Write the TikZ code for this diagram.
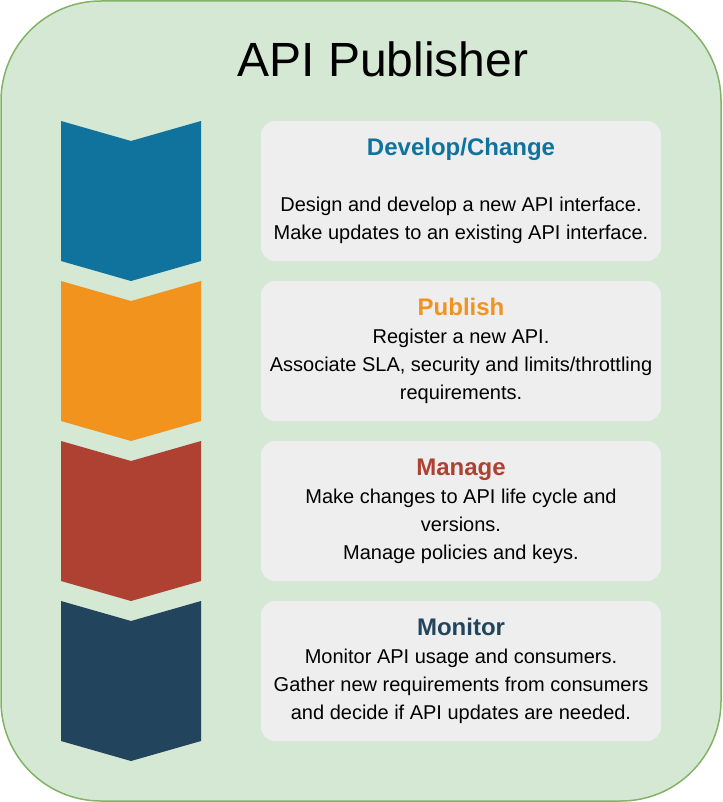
\documentclass[tikz,border=0pt]{standalone}
\usepackage{fontspec}
\setmainfont{Liberation Sans}
\definecolor{devblue}{HTML}{10739E}
\definecolor{puborange}{HTML}{F2931E}
\definecolor{mgmtred}{HTML}{AE4132}
\definecolor{monnavy}{HTML}{23445D}
\definecolor{framefill}{HTML}{D5E8D4}
\definecolor{framedraw}{HTML}{82B366}
\definecolor{cardgrey}{HTML}{EEEEEE}
\newcommand{\cardhead}[2]{{\fontsize{24}{28}\selectfont\bfseries\color{#1}#2}}
\newcommand{\trail}{\hspace*{0.278em}}
\begin{document}
\begin{tikzpicture}[x=1pt,y=-1pt]

    \tikzset{
      card/.style={
        fill=cardgrey,
        rounded corners=14pt,
        minimum width=400pt,
        minimum height=140pt,
        inner sep=0pt,
        align=center,
        font=\fontsize{20}{28}\selectfont,
      },
    }
    \useasboundingbox (0,0) rectangle (722,802);
    \draw[draw=framedraw, fill=framefill, line width=1.5pt, rounded corners=100pt] (1,1) rectangle (721,801);
    \node[anchor=base] (title) at (383,77) {\fontsize{48}{54}\selectfont API Publisher};

    % chevrons
	\fill[devblue] (61,121) -- (131,141) -- (201,121) -- (201,261) -- (131,281) -- (61,261) -- cycle;
	\fill[puborange] (61,281) -- (131,301) -- (201,281) -- (201,421) -- (131,441) -- (61,421) -- cycle;
	\fill[mgmtred] (61,441) -- (131,461) -- (201,441) -- (201,581) -- (131,601) -- (61,581) -- cycle;
	\fill[monnavy] (61,601) -- (131,621) -- (201,601) -- (201,741) -- (131,761) -- (61,741) -- cycle;

    % cards
	\node[card] (develop) at (461,191) {\cardhead{devblue}{Develop/Change}\\[28pt]
	  Design and develop a new API interface.\\
	  Make updates to an existing API interface.};
	\node[card] (publish) at (461,351) {\cardhead{puborange}{Publish}\\
	  Register a new API.\\
	  Associate SLA, security and limits/throttling\trail\\
	  requirements.};
	\node[card] (manage) at (461,511) {\cardhead{mgmtred}{Manage}\\
	  Make changes to API life cycle and\\
	  versions.\\
	  Manage policies and keys.};
	\node[card] (monitor) at (461,671) {\cardhead{monnavy}{Monitor}\\
	  Monitor API usage and consumers.\\
	  Gather new requirements from consumers\trail\\
	  and decide if API updates are needed.};

\end{tikzpicture}
\end{document}
